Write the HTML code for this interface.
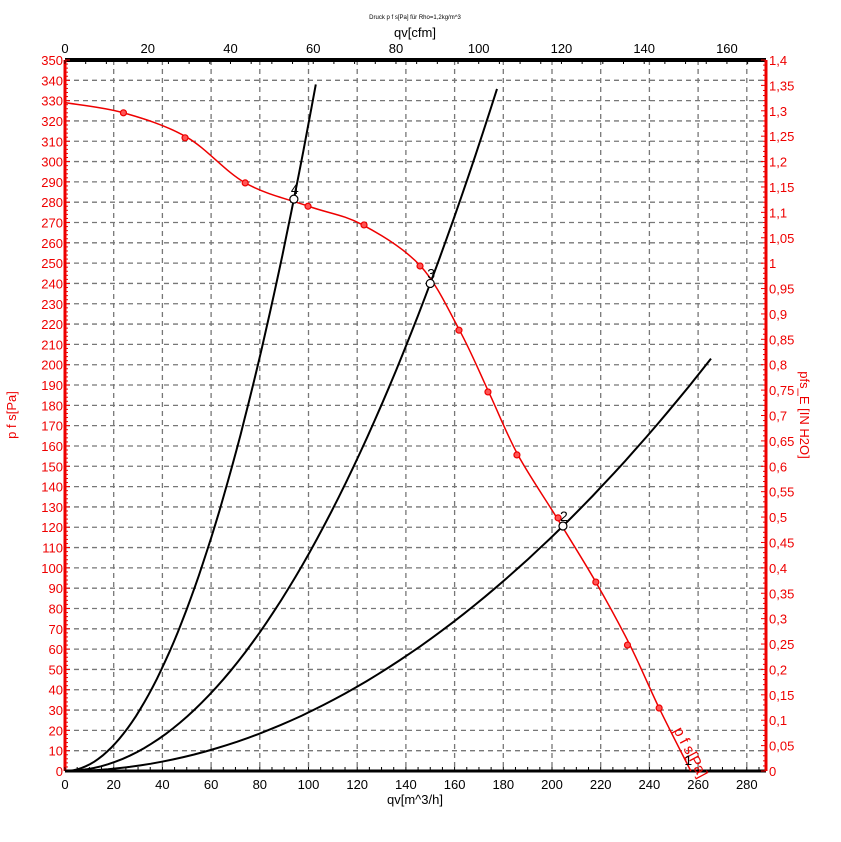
<!DOCTYPE html>
<html><head><meta charset="utf-8"><style>
body{margin:0;background:#fff}
svg{display:block;font-family:"Liberation Sans",sans-serif}
</style></head><body>
<svg id="c" width="841" height="842" viewBox="0 0 841 842"></svg>
<script>
const fanQ=[0,24,50,74,100,122,146,162,174,186,202,218,232,244,257];
const fanP=[329,324,312,289.5,278,269,248.6,217,186.6,155.6,124.6,93,62,31,0];
const markQ=[24,49.3,74,99.8,122.8,145.8,161.8,173.7,185.6,202.5,218,231,244];
const markP=[324,311.7,289.5,278,268.8,248.6,217,186.6,155.6,124.6,93,62,31];
const sysK=[0.002884,0.01067,0.03186];
const sysQmax=[265.3,177.4,103];
const opLabels=["2","3","4"];
const opQ=[204.5,150,94];
const opP=[120.6,240,281.5];
const xTicks=[0,20,40,60,80,100,120,140,160,180,200,220,240,260,280];
const cfmTicks=[0,20,40,60,80,100,120,140,160];
const yTicks=[0,10,20,30,40,50,60,70,80,90,100,110,120,130,140,150,160,170,180,190,200,210,220,230,240,250,260,270,280,290,300,310,320,330,340,350];
const inTicks=[];for(let i=0;i<=28;i++)inTicks.push(i*0.05);

const L=65,R=766,T=60,B=771;
const X=q=>L+q*2.435;
const Y=p=>B-p*(B-T)/350;
const Yin=v=>B-v*(B-T)/1.4;
const XC=c=>L+c*1.699*2.435;
const svg=document.getElementById('c');
const NS='http://www.w3.org/2000/svg';
function mk(tag,attrs,parent){const e=document.createElementNS(NS,tag);for(const k in attrs)e.setAttribute(k,attrs[k]);(parent||svg).appendChild(e);return e;}
function txt(s,x,y,attrs){const e=mk('text',Object.assign({x:x,y:y},attrs||{}));e.textContent=s;return e;}

const grid=mk('g',{stroke:'#777','stroke-dasharray':'5,4','stroke-width':1.3});


yTicks.forEach(v=>{if(v>0&&v<350)mk('line',{x1:L,x2:R,y1:Y(v),y2:Y(v)},grid);});
xTicks.forEach(v=>{if(v>0)mk('line',{x1:X(v),x2:X(v),y1:T,y2:B},grid);});

const ax=mk('g',{});


mk('line',{x1:L,x2:R,y1:T,y2:T,stroke:'#000','stroke-width':4},ax);
mk('line',{x1:L,x2:R,y1:B,y2:B,stroke:'#000','stroke-width':3},ax);
mk('line',{x1:L,x2:L,y1:T,y2:B,stroke:'#e00','stroke-width':3},ax);
mk('line',{x1:R,x2:R,y1:T,y2:B,stroke:'#e00','stroke-width':3},ax);
for(let q=0;q<=288;q+=5){mk('line',{x1:X(q),x2:X(q),y1:B,y2:B-4,stroke:'#000'},ax);}
for(let c=0;c<=168;c+=5){mk('line',{x1:XC(c),x2:XC(c),y1:T,y2:T+4,stroke:'#000'},ax);}
for(let p=0;p<=350;p+=2){mk('line',{x1:L,x2:L+(p%10?3:5),y1:Y(p),y2:Y(p),stroke:'#e00'},ax);}
for(let i=0;i<=140;i++){mk('line',{x1:R,x2:R-(i%5?3:5),y1:Yin(i/100),y2:Yin(i/100),stroke:'#e00'},ax);}

xTicks.forEach(v=>{const t=txt(v,X(v),789,{'font-size':13,'text-anchor':'middle',fill:'#000'});});
cfmTicks.forEach(v=>{const t=txt(v,XC(v),53,{'font-size':13,'text-anchor':'middle',fill:'#000'});});
yTicks.forEach(v=>{const t=txt(v,L-2,Y(v)+5,{'font-size':13,'text-anchor':'end',fill:'#e00'});});
inTicks.forEach(v=>{const s=(Math.round(v*100)/100).toString().replace('.',',');const t=txt(s,R+3,Yin(v)+5,{'font-size':13,fill:'#e00'});});

let t;
t=txt('Druck p f s[Pa] für Rho=1,2kg/m^3',415,19,{'font-size':6,'text-anchor':'middle'});
t=txt('qv[cfm]',415,37,{'font-size':13,'text-anchor':'middle'});
t=txt('qv[m^3/h]',415,804,{'font-size':13,'text-anchor':'middle'});
t=txt('p f s[Pa]',16,415,{'font-size':13,'text-anchor':'middle',fill:'#e00',transform:'rotate(-90 16 415)'});
t=txt('pfs_E [IN H2O]',800,415,{'font-size':13,'text-anchor':'middle',fill:'#e00',transform:'rotate(90 800 415)'});

sysK.forEach((k,i)=>{let d='';for(let j=0;j<=60;j++){const q=sysQmax[i]*j/60;d+=(j?'L':'M')+X(q).toFixed(1)+','+Y(k*q*q).toFixed(1);}
const p=mk('path',{d:d,fill:'none',stroke:'#000','stroke-width':2});

});

let d='M'+X(fanQ[0])+','+Y(fanP[0]);
for(let i=0;i<fanQ.length-1;i++){
 const p0=[X(fanQ[Math.max(i-1,0)]),Y(fanP[Math.max(i-1,0)])],p1=[X(fanQ[i]),Y(fanP[i])],p2=[X(fanQ[i+1]),Y(fanP[i+1])],p3=[X(fanQ[Math.min(i+2,fanQ.length-1)]),Y(fanP[Math.min(i+2,fanQ.length-1)])];
 const c1=[p1[0]+(p2[0]-p0[0])/6,p1[1]+(p2[1]-p0[1])/6],c2=[p2[0]-(p3[0]-p1[0])/6,p2[1]-(p3[1]-p1[1])/6];
 d+='C'+c1.join(',')+' '+c2.join(',')+' '+p2.join(',');}
const fc=mk('path',{d:d,fill:'none',stroke:'#e00','stroke-width':1.5});


markQ.forEach((q,i)=>{const m=mk('circle',{cx:X(q),cy:Y(markP[i]),r:3,fill:'#f55',stroke:'#e00','stroke-width':1.2});

});
t=txt('p f s[Pa]',0,0,{'font-size':15,fill:'#e00',transform:'translate('+(X(249)+2)+','+(Y(20))+') rotate(62)'});

opQ.forEach((q,i)=>{const c=mk('circle',{cx:X(q),cy:Y(opP[i]),r:4,fill:'#fff',stroke:'#000','stroke-width':1.2});


const l=txt(opLabels[i],X(q)-3,Y(opP[i])-5,{'font-size':14});

});
t=txt('1',X(256)-4,Y(0)-6,{'font-size':14});
</script>
</body></html>
